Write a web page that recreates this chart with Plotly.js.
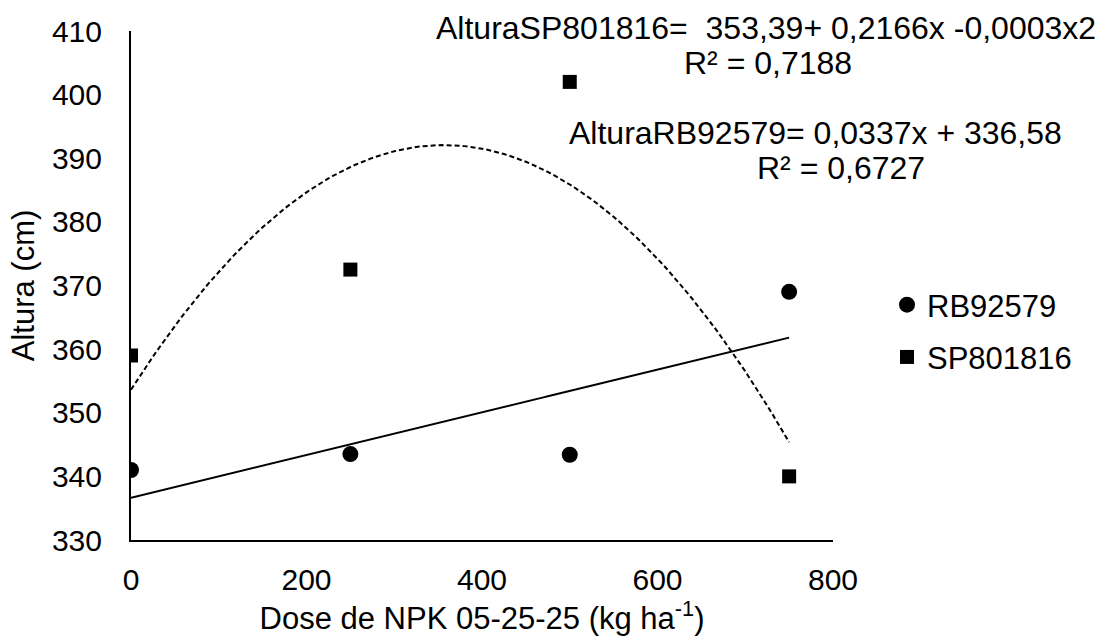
<!DOCTYPE html>
<html><head><meta charset="utf-8">
<script src="https://cdn.plot.ly/plotly-3.0.1.min.js"></script>
<style>body{margin:0;background:#fff}#c{width:1101px;height:639px}</style>
</head><body><div id="c"></div>
<script>
const doses = [0, 250, 500, 750];
const rb92579 = [341.0, 343.5, 343.4, 369.0];
const sp801816 = [359.0, 372.5, 402.0, 340.0];
const xTicks = [0, 200, 400, 600, 800];
const yTicks = [330, 340, 350, 360, 370, 380, 390, 400, 410];
const eqLabels = ['AlturaSP801816=  353,39+ 0,2166x -0,0003x2', 'R² = 0,7188', 'AlturaRB92579= 0,0337x + 336,58', 'R² = 0,6727'];

// least-squares fits (as the spreadsheet trendlines do)
function polyfit(x, y, deg) {
  const n = deg + 1;
  const A = Array.from({length:n}, () => new Array(n+1).fill(0));
  for (let r = 0; r < n; r++) {
    for (let c = 0; c < n; c++) A[r][c] = x.reduce((s, v) => s + Math.pow(v, r + c), 0);
    A[r][n] = x.reduce((s, v, i) => s + Math.pow(v, r) * y[i], 0);
  }
  for (let i = 0; i < n; i++) {
    let p = i; for (let k = i+1; k < n; k++) if (Math.abs(A[k][i]) > Math.abs(A[p][i])) p = k;
    [A[i], A[p]] = [A[p], A[i]];
    for (let k = 0; k < n; k++) if (k !== i) { const f = A[k][i] / A[i][i]; for (let j = i; j <= n; j++) A[k][j] -= f * A[i][j]; }
  }
  return A.map((row, i) => row[n] / row[i]);
}
const linC = polyfit(doses, rb92579, 1);
const quadC = polyfit(doses, sp801816, 2);
const xs = []; for (let v = 0; v <= 750; v += 5) xs.push(v);
const evalP = (c, x) => c.reduce((s, a, i) => s + a * Math.pow(x, i), 0);

const W = 1101, H = 639, L = 131, R = 833, T = 31, B = 540;
const px = x => (x - L) / (R - L);
const py = y => 1 - (y - T) / (B - T);

const font = {family: 'Liberation Sans, Arial, sans-serif', color: '#000'};
const traces = [
  {x: xs, y: xs.map(v => evalP(quadC, v)), mode: 'lines', line: {color: '#000', width: 2, dash: '5px,3px'}, showlegend: false, hoverinfo: 'skip'},
  {x: xs, y: xs.map(v => evalP(linC, v)), mode: 'lines', line: {color: '#000', width: 2}, showlegend: false, hoverinfo: 'skip'},
  {x: doses, y: rb92579, mode: 'markers', name: 'RB92579', legendgroup: 'a', marker: {symbol: 'circle', size: 16, color: '#000'}},
  {x: doses, y: sp801816, mode: 'markers', name: 'SP801816', legendgroup: 'b', marker: {symbol: 'square', size: 14, color: '#000'}}
];
const ann = (i, x, y) => ({xref: 'paper', yref: 'paper', x: px(x), y: py(y), xanchor: 'center', yanchor: 'middle',
  showarrow: false, text: eqLabels[i], font: {size: 32}});
const layout = {
  width: W, height: H,
  margin: {l: L, r: W - R, t: T, b: H - B},
  paper_bgcolor: '#fff', plot_bgcolor: '#fff',
  font: Object.assign({size: 30}, font),
  xaxis: {range: [0, 800], tickvals: xTicks, ticktext: xTicks.map(String), showgrid: false, zeroline: false,
    showline: true, linecolor: '#000', linewidth: 2, ticks: '', ticklabelstandoff: 12, tickfont: {size: 30},
    title: {text: 'Dose de NPK 05-25-25 (kg ha<sup>-1</sup>)', font: {size: 31}, standoff: 0}},
  yaxis: {range: [330, 410], tickvals: yTicks, ticktext: yTicks.map(String), showgrid: false, zeroline: false,
    showline: true, linecolor: '#000', linewidth: 2, ticks: '', ticklabelstandoff: 21, tickfont: {size: 30},
    title: {text: 'Altura (cm)', font: {size: 31}, standoff: 8}},
  showlegend: true,
  legend: {x: px(887), y: py(331), xanchor: 'left', yanchor: 'middle', font: {size: 31}, traceorder: 'grouped',
    tracegroupgap: 9, itemwidth: 30, bgcolor: 'rgba(0,0,0,0)'},
  annotations: [ann(0, 766, 28), ann(1, 768, 63), ann(2, 815, 133), ann(3, 841, 168)]
};
Plotly.newPlot('c', traces, layout, {displayModeBar: false, staticPlot: true});
</script></body></html>
